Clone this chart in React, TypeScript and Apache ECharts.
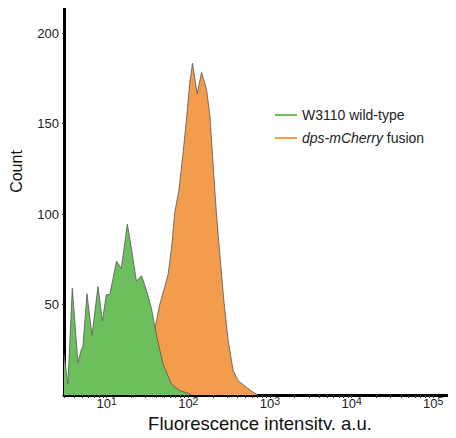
import React, { useEffect, useRef } from "react";
import * as echarts from "echarts";

// Fluorescence intensity (a.u., log scale) and event counts
const wildTypeX = [3.0, 3.35, 3.79, 4.44, 4.89, 5.12, 5.73, 6.6, 7.82, 8.86, 9.9, 10.9, 13.2, 15.1, 17.9, 20.1, 23.1, 26.7, 30.7, 35.3, 40.7, 49.1, 62.2, 78.7, 99.5, 110];
const wildTypeY = [22.7, 6, 59, 18, 25, 27, 56, 33, 60, 41, 55.5, 55.5, 74, 70, 94.5, 81, 63, 66, 58, 48, 33, 17, 6, 2.4, 1, 0];

const fusionX = [25.4, 29.3, 33.7, 38.8, 44.7, 51.5, 56.5, 62.2, 68.3, 77.1, 86.3, 95.0, 104.2, 112.6, 128.3, 145.2, 167.2, 183.6, 201.5, 221.6, 243.3, 272.7, 307.7, 354.6, 408.5, 517.6, 623.7, 713];
const fusionY = [2, 10, 22, 36.4, 50, 60, 66.7, 81, 101, 114, 134, 152.6, 173, 183.4, 166.5, 178.4, 169, 154.6, 127, 99.5, 77.6, 51.9, 30, 13.4, 7.9, 4.2, 1.5, 0];

const seriesNames = ["W3110 wild-type", "dps-mCherry fusion"];
const xLabelValues = [10, 100, 1000, 10000, 100000];
const xLabelExps = ["1", "2", "3", "4", "5"];
const yLabelValues = [50, 100, 150, 200];

const GREEN = "#6cbf5c";
const ORANGE = "#f29c4c";

export default function App() {
  const ref = useRef<HTMLDivElement>(null);
  useEffect(() => {
    if (!ref.current) return;
    const chart = echarts.init(ref.current, undefined, { renderer: "svg" });
    const minorTicks: number[] = [];
    for (let e = 0; e <= 5; e++) {
      for (let k = 1; k <= 9; k++) minorTicks.push(k * Math.pow(10, e));
    }
    const font = "Liberation Sans, Arial, sans-serif";
    chart.setOption({
      animation: false,
      textStyle: { fontFamily: font },
      grid: { left: 64, right: 0, top: 8, bottom: 40, containLabel: false },
      legend: {
        orient: "vertical",
        left: 275,
        top: 108,
        itemWidth: 22,
        itemHeight: 2,
        itemGap: 9,
        padding: 0,
        icon: "rect",
        data: [
          { name: seriesNames[0], itemStyle: { color: GREEN } },
          { name: seriesNames[1], itemStyle: { color: ORANGE } },
        ],
        formatter: (name: string) =>
          name === seriesNames[1] ? "{i|dps-mCherry} fusion" : name,
        textStyle: {
          fontSize: 14,
          color: "#222",
          fontFamily: font,
          rich: { i: { fontStyle: "italic", fontSize: 14, color: "#222", fontFamily: font } },
        },
      },
      xAxis: {
        type: "log",
        logBase: 10,
        min: 3,
        max: 190000,
        name: "Fluorescence intensity, a.u.",
        nameLocation: "middle",
        nameGap: 18,
        nameMoveOverlap: false,
        nameTextStyle: { fontSize: 18.5, color: "#111", fontFamily: font, lineHeight: 20 },
        axisLine: { lineStyle: { color: "#000", width: 3 } },
        axisTick: { show: true, length: 3, customValues: minorTicks, lineStyle: { color: "#333", width: 1 } },
        minorTick: { show: false },
        splitLine: { show: false },
        axisLabel: {
          customValues: xLabelValues,
          margin: 0,
          color: "#222",
          fontSize: 13,
          formatter: (v: number) => {
            const i = xLabelValues.findIndex((x) => Math.abs(x - v) / x < 1e-6);
            return "{b|10}{s|" + (i >= 0 ? xLabelExps[i] : "") + "}";
          },
          rich: {
            b: { fontSize: 13, color: "#222", fontFamily: font, lineHeight: 15, verticalAlign: "bottom" },
            s: { fontSize: 10.5, color: "#222", fontFamily: font, lineHeight: 10, verticalAlign: "top" },
          },
        },
      },
      yAxis: {
        type: "value",
        min: 0,
        max: 214,
        name: "Count",
        nameLocation: "middle",
        nameGap: 40,
        nameTextStyle: { fontSize: 16, color: "#111", fontFamily: font, padding: [0, 0, 0, 60] },
        axisLine: { show: true, lineStyle: { color: "#000", width: 3 } },
        axisTick: { show: true, length: 2, customValues: yLabelValues, lineStyle: { color: "#333" } },
        splitLine: { show: false },
        axisLabel: { customValues: yLabelValues, margin: 5, color: "#222", fontSize: 13 },
      },
      series: [
        {
          name: seriesNames[1],
          type: "line",
          z: 2,
          color: ORANGE,
          symbol: "none",
          data: fusionX.map((x, i) => [x, fusionY[i]]),
          lineStyle: { color: "#555", width: 0.8 },
          areaStyle: { color: ORANGE, opacity: 1 },
        },
        {
          name: seriesNames[0],
          type: "line",
          z: 3,
          color: GREEN,
          symbol: "none",
          data: wildTypeX.map((x, i) => [x, wildTypeY[i]]),
          lineStyle: { color: "#555", width: 0.8 },
          areaStyle: { color: GREEN, opacity: 1 },
        },
      ],
    });
    return () => chart.dispose();
  }, []);
  return <div ref={ref} style={{ width: 456, height: 438, margin: -8 }} />;
}
